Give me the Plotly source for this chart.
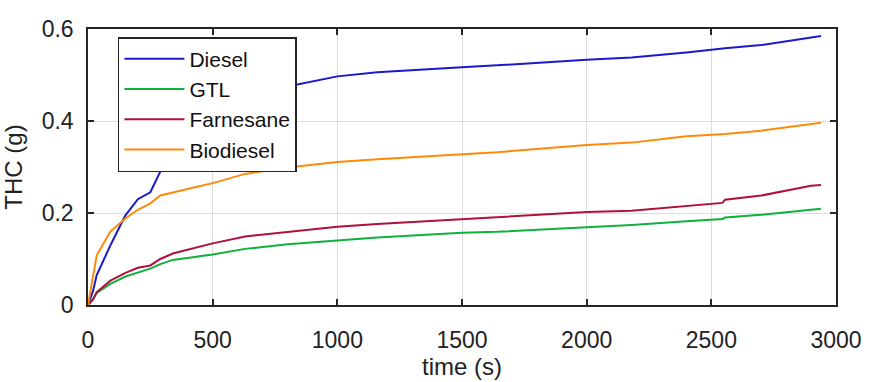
import plotly.graph_objects as go

# Cumulative total hydrocarbon (THC) mass over the test cycle
time_s = [0, 20, 35, 90, 150, 200, 250, 290, 340, 420, 500, 630, 800, 1000, 1160,
          1500, 1640, 2000, 2180, 2400, 2500, 2545, 2555, 2700, 2900, 2940]

diesel = [0, 0.03, 0.065, 0.13, 0.195, 0.23, 0.245, 0.29, 0.318, 0.36, 0.40, 0.44,
          0.475, 0.497, 0.506, 0.517, 0.521, 0.533, 0.538, 0.549, 0.555, 0.557,
          0.558, 0.565, 0.583, 0.585]
gtl = [0, 0.012, 0.026, 0.046, 0.062, 0.071, 0.079, 0.089, 0.098, 0.104, 0.11, 0.122,
       0.132, 0.14, 0.147, 0.157, 0.159, 0.169, 0.174, 0.182, 0.185, 0.187, 0.19,
       0.196, 0.207, 0.209]
farnesane = [0, 0.012, 0.028, 0.053, 0.07, 0.081, 0.086, 0.1, 0.112, 0.123, 0.134,
             0.149, 0.159, 0.17, 0.176, 0.187, 0.191, 0.202, 0.205, 0.216, 0.221,
             0.222, 0.229, 0.238, 0.259, 0.261]
biodiesel = [0, 0.06, 0.108, 0.16, 0.188, 0.207, 0.221, 0.238, 0.245, 0.255, 0.265,
             0.285, 0.299, 0.311, 0.317, 0.328, 0.332, 0.348, 0.353, 0.367, 0.370,
             0.372, 0.372, 0.379, 0.393, 0.396]

series = [
    ("Diesel", diesel, "#1a1acc"),
    ("GTL", gtl, "#10b03c"),
    ("Farnesane", farnesane, "#b0103c"),
    ("Biodiesel", biodiesel, "#ff8a0a"),
]

x_ticks = [0, 500, 1000, 1500, 2000, 2500, 3000]
y_ticks = [0, 0.2, 0.4, 0.6]
y_labels = ["0", "0.2", "0.4", "0.6"]

FONT = "Liberation Sans, Arial, sans-serif"

fig = go.Figure()
for name, vals, color in series:
    fig.add_trace(go.Scatter(x=time_s, y=vals, name=name, mode="lines",
                             line=dict(color=color, width=2)))

axis_common = dict(
    showline=True, linecolor="#262626", linewidth=1.5, mirror="ticks",
    ticks="inside", ticklen=6, tickwidth=1.5, tickcolor="#262626",
    showgrid=True, gridcolor="#dcdcdc", gridwidth=1, zeroline=False,
    tickfont=dict(family=FONT, size=23, color="#222"),
)

fig.update_layout(
    width=874, height=382,
    margin=dict(l=88, r=30, t=29, b=76),
    paper_bgcolor="white", plot_bgcolor="white",
    font=dict(family=FONT, color="#222"),
    xaxis=dict(range=[0, 3000], tickvals=x_ticks, ticklabelstandoff=14,
               title=dict(text="time (s)", font=dict(family=FONT, size=24), standoff=0),
               **axis_common),
    yaxis=dict(range=[0, 0.6], tickvals=y_ticks, ticktext=y_labels, ticklabelstandoff=8,
               title=dict(text="THC (g)", font=dict(family=FONT, size=24), standoff=12),
               **axis_common),
    legend=dict(x=0.04, y=0.971, xanchor="left", yanchor="top",
                bgcolor="white", bordercolor="#262626", borderwidth=1.5,
                font=dict(family=FONT, size=21, color="#111"),
                itemwidth=60, tracegroupgap=0),
    showlegend=True,
)

fig.write_html("out.html")
